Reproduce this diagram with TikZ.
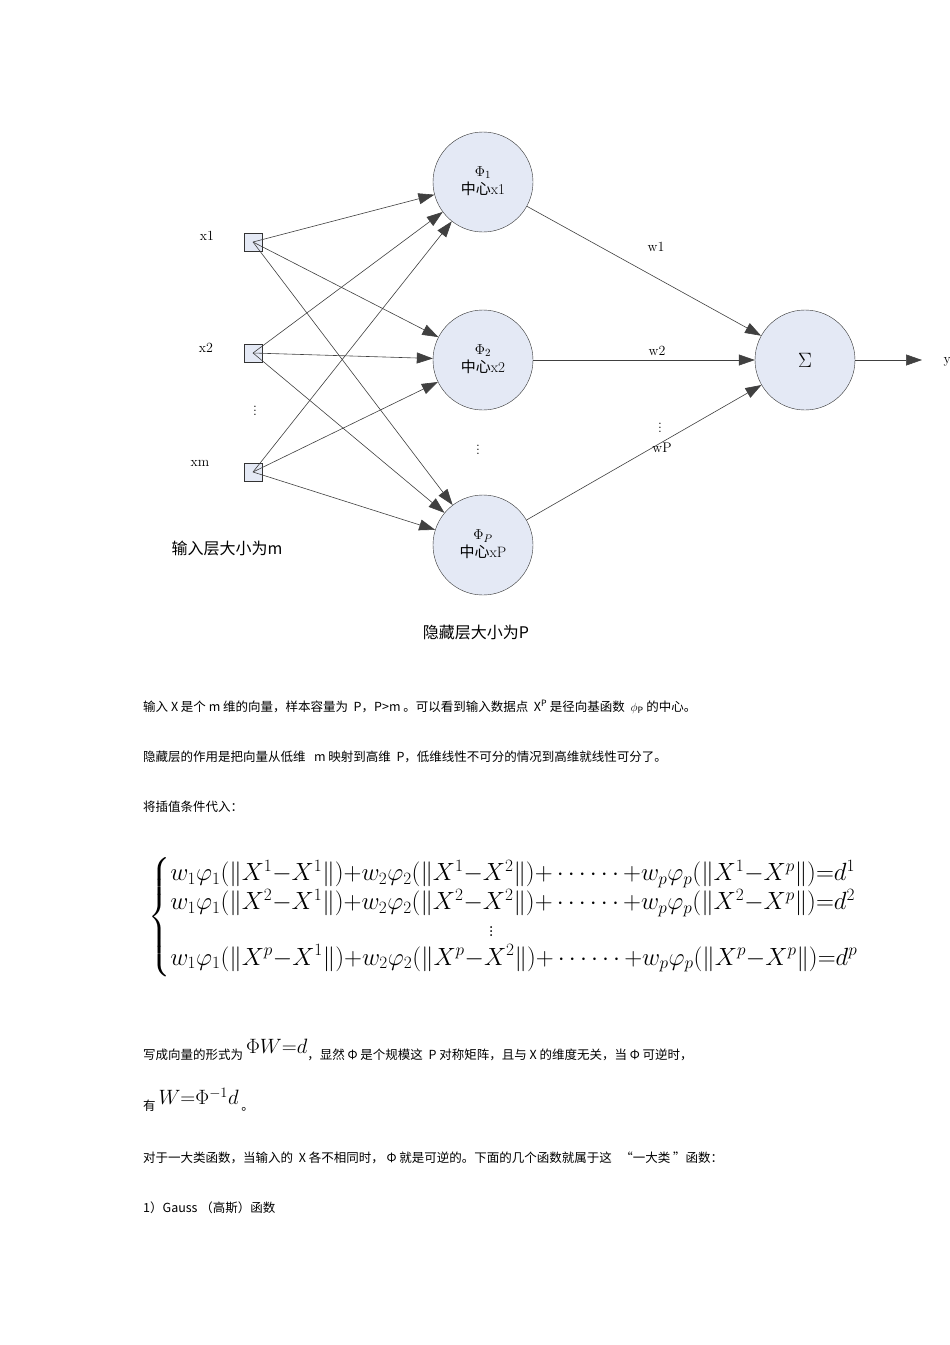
\documentclass[tikz,border=0pt]{standalone}
\usepackage{amsmath}
\usepackage{fontspec}
\newfontfamily\cjk{Noto Sans CJK SC}
\usetikzlibrary{arrows.meta}
\definecolor{nfill}{RGB}{228,233,245}
\begin{document}
\begin{tikzpicture}[x=1pt,y=-1pt,
  neuron/.style={circle,draw=black!80,fill=nfill,minimum size=100pt,inner sep=0pt,font=\fontsize{15}{17}\selectfont},
  inbox/.style={rectangle,draw=black!80,fill=nfill,minimum size=18pt,inner sep=0pt},
  conn/.style={draw=black!75,line width=0.6pt,-{Triangle[length=16pt,width=11pt]}},
  lbl/.style={font=\fontsize{14}{16}\selectfont},
  body/.style={anchor=west,inner sep=0pt,font=\cjk\fontsize{12.5}{15}\selectfont}]
\useasboundingbox[fill=white] (0,0) rectangle (950,1345);
\node[neuron] (h1) at (483,182) {\begin{tabular}{c}$\Phi_1$\\{\cjk 中心}x1\end{tabular}};
\node[neuron] (h2) at (483,360) {\begin{tabular}{c}$\Phi_2$\\{\cjk 中心}x2\end{tabular}};
\node[neuron] (hp) at (483,545) {\begin{tabular}{c}$\Phi_P$\\{\cjk 中心}xP\end{tabular}};
\node[neuron,font=\fontsize{20}{22}\selectfont] (o) at (805,360) {$\Sigma$};
\node[inbox] (i1) at (253,242) {};
\node[inbox] (i2) at (253,353) {};
\node[inbox] (im) at (253,472) {};
\node[lbl] (l1) at (207,236) {x1};
\node[lbl] (l2) at (206,348) {x2};
\node[lbl] (ld) at (255,408) {$\vdots$};
\node[lbl] (lm) at (200,463) {xm};
\node[lbl] (hd) at (478,447) {$\vdots$};
\foreach \i in {i1,i2,im}{\foreach \h in {h1,h2,hp}{\draw[conn] (\i.center) -- (\h);}}
\draw[conn] (h1) -- (o);
\draw[conn] (h2) -- (o);
\draw[conn] (hp) -- (o);
\coordinate (yend) at (922,360);
\draw[conn] (o) -- (yend);
\node[lbl,anchor=west] (y) at (940,362) {y};
\node[lbl] (w1) at (656,247) {w1};
\node[lbl] (w2) at (657,351) {w2};
\node[lbl] (wd) at (660,425) {$\vdots$};
\node[lbl] (wp) at (662,448) {wP};
\node[font=\cjk\fontsize{16}{18}\selectfont] (t1) at (227,548) {输入层大小为m};
\node[font=\cjk\fontsize{16}{18}\selectfont] (t2) at (476,632) {隐藏层大小为P};
\node[body] (p1) at (143,707) {输入 X 是个 m 维的向量，样本容量为 \ P，P>m 。可以看到输入数据点 \ X$^{\text{P}}$ 是径向基函数 \ $\phi_{\text{P}}$ 的中心。};
\node[body] (p2) at (143,757) {隐藏层的作用是把向量从低维 \ \ m 映射到高维 \ P，低维线性不可分的情况到高维就线性可分了。};
\node[body] (p3) at (143,807) {将插值条件代入：};
\node[anchor=west,inner sep=0pt,font=\fontsize{23}{26}\selectfont] (eq) at (148,917) {\renewcommand{\arraystretch}{1.05}$\left\{\begin{array}{@{}l@{}}
w_1\varphi_1(\|X^1{-}X^1\|){+}w_2\varphi_2(\|X^1{-}X^2\|){+}\cdots\cdots{+}w_p\varphi_p(\|X^1{-}X^p\|){=}d^1\\
w_1\varphi_1(\|X^2{-}X^1\|){+}w_2\varphi_2(\|X^2{-}X^2\|){+}\cdots\cdots{+}w_p\varphi_p(\|X^2{-}X^p\|){=}d^2\\
\hspace{318pt}\vdots\\
w_1\varphi_1(\|X^p{-}X^1\|){+}w_2\varphi_2(\|X^p{-}X^2\|){+}\cdots\cdots{+}w_p\varphi_p(\|X^p{-}X^p\|){=}d^p
\end{array}\right.$};
\node[body] (p4) at (143,1050) {写成向量的形式为 \raisebox{6pt}{\fontsize{20}{22}\selectfont$\Phi W{=}d$}，显然 Φ 是个规模这 \ P 对称矩阵，且与 X 的维度无关，当 Φ 可逆时，};
\node[body] (p5) at (143,1100) {有 \raisebox{6pt}{\fontsize{20}{22}\selectfont$W{=}\Phi^{-1}d$} 。};
\node[body] (p6) at (143,1158) {对于一大类函数，当输入的 \ X 各不相同时， Φ 就是可逆的。下面的几个函数就属于这 \ \ “一大类 ”函数：};
\node[body] (p7) at (143,1208) {1）Gauss （高斯）函数};
\end{tikzpicture}
\end{document}
